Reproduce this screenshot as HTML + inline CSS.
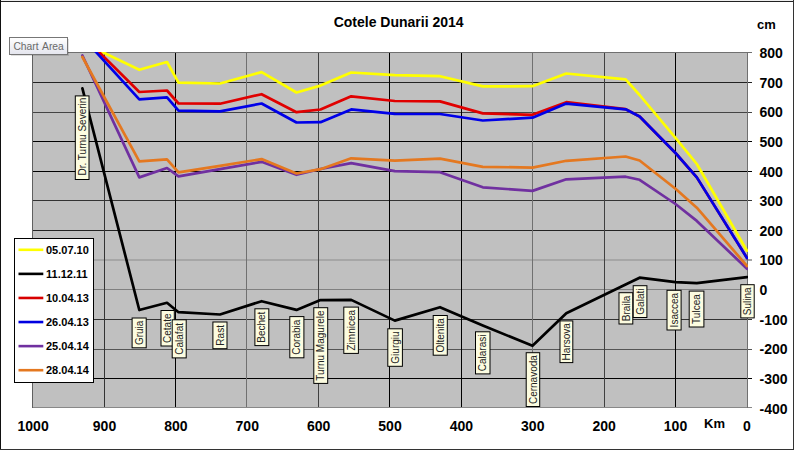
<!DOCTYPE html><html><head><meta charset="utf-8"><style>html,body{margin:0;padding:0;background:#fff;}svg{display:block;font-family:"Liberation Sans",sans-serif;}</style></head><body>
<svg width="794" height="450" viewBox="0 0 794 450">
<defs><clipPath id="pc"><rect x="32" y="52" width="716" height="356"/></clipPath>
<linearGradient id="tg" x1="0" y1="0" x2="0" y2="1"><stop offset="0" stop-color="#ffffff"/><stop offset="1" stop-color="#e4e5ee"/></linearGradient></defs>
<rect width="794" height="450" fill="#fff"/>
<rect x="32" y="52" width="716" height="356" fill="#C0C0C0"/>
<rect x="32" y="82" width="720" height="1" fill="#222"/>
<rect x="32" y="112" width="720" height="1" fill="#444"/>
<rect x="32" y="141" width="720" height="1" fill="#000"/>
<rect x="32" y="171" width="720" height="1" fill="#000"/>
<rect x="32" y="200" width="720" height="1" fill="#333"/>
<rect x="32" y="230" width="720" height="1" fill="#222"/>
<rect x="32" y="259" width="720" height="2" fill="#a6a6a6"/>
<rect x="32" y="289" width="720" height="1" fill="#808080"/>
<rect x="32" y="319" width="720" height="1" fill="#333"/>
<rect x="32" y="349" width="720" height="1" fill="#555"/>
<rect x="32" y="378" width="720" height="1" fill="#000"/>
<rect x="104" y="52" width="1" height="356" fill="#333"/>
<rect x="175" y="52" width="1" height="356" fill="#000"/>
<rect x="246" y="52" width="1" height="356" fill="#707070"/>
<rect x="318" y="52" width="1" height="356" fill="#404040"/>
<rect x="389" y="52" width="1" height="356" fill="#000"/>
<rect x="461" y="52" width="1" height="356" fill="#000"/>
<rect x="532" y="52" width="1" height="356" fill="#707070"/>
<rect x="604" y="52" width="1" height="356" fill="#404040"/>
<rect x="675" y="52" width="1" height="356" fill="#000"/>
<rect x="32" y="52" width="720" height="1" fill="#707070"/>
<rect x="32" y="407" width="720" height="1" fill="#888"/>
<rect x="32" y="52" width="1" height="356" fill="#606060"/>
<rect x="747" y="52" width="1" height="356" fill="#707070"/>
<g clip-path="url(#pc)" fill="none" stroke-width="2.7" stroke-linejoin="round" stroke-linecap="round">
<polyline points="82.4,42.5 139.3,69.8 167,62 178.5,82.7 220,83.5 261.6,72.1 296.5,92.5 320.5,85.6 351.2,72.5 394.8,75.2 440,76.2 482.8,86.4 532.5,86.2 566.3,73.5 625.6,79.3 639.6,95 675.5,137.8 696.8,164 747,250.7" stroke="#FFFF00"/>
<polyline points="82.4,88.3 139.3,310 167,302.8 178.5,312.2 220,314.5 261.6,301.2 296.5,309.9 320.5,300.1 351.2,299.9 394.8,320.6 440,307.2 482.8,325.5 532.5,345.8 566.3,313.2 625.6,284.5 639.6,277.7 675.5,282.2 696.8,283.2 747,277.1" stroke="#000000"/>
<polyline points="82.4,35.5 139.3,92 167,90.5 178.5,103.5 220,103.7 261.6,94.2 296.5,112.2 320.5,109.5 351.2,96.3 394.8,101 440,101.4 482.8,113.4 532.5,114.8 566.3,102.2 625.6,109.1 639.6,116.5 675.5,153 696.8,177.4 747,258" stroke="#E00000"/>
<polyline points="82.4,37.1 139.3,99.3 167,97.3 178.5,110.7 220,111.3 261.6,103.5 296.5,122.5 320.5,122.2 351.2,109.4 394.8,113.9 440,114 482.8,120.5 532.5,117.7 566.3,103.6 625.6,109.3 639.6,116.5 675.5,153 696.8,177.4 747,258" stroke="#0000E8"/>
<polyline points="82.4,55.5 139.3,177.4 167,168 178.5,176.4 220,169.1 261.6,161.8 296.5,174.8 320.5,169 351.2,163.2 394.8,171.2 440,172.2 482.8,187.3 532.5,190.9 566.3,179.3 625.6,176.7 639.6,179.8 675.5,204 696.8,220.9 747,268.7" stroke="#7030A0"/>
<polyline points="82.4,57 139.3,161.3 167,159.3 178.5,172.4 220,165.8 261.6,159.1 296.5,173.5 320.5,169.2 351.2,158.3 394.8,160.7 440,158.7 482.8,166.8 532.5,167.6 566.3,160.8 625.6,156.5 639.6,160.5 675.5,188.8 696.8,207.7 747,266" stroke="#E47820"/>
</g>
<rect x="75.3" y="95.9" width="13.7" height="83.6" fill="#FCFCE0" stroke="#000" stroke-width="1"/>
<text x="0" y="0" transform="translate(82.15,136.6) rotate(-90)" font-size="10" text-anchor="middle" dy="3.6" fill="#222">Dr. Turnu Severin</text>
<rect x="132.1" y="318" width="14.1" height="29.8" fill="#FCFCE0" stroke="#000" stroke-width="1"/>
<text x="0" y="0" transform="translate(139.15,332.9) rotate(-90)" font-size="10" text-anchor="middle" dy="3.6" fill="#222">Gruia</text>
<rect x="161" y="310.5" width="13.3" height="35.5" fill="#FCFCE0" stroke="#000" stroke-width="1"/>
<text x="0" y="0" transform="translate(167.65,328.25) rotate(-90)" font-size="10" text-anchor="middle" dy="3.6" fill="#222">Cetate</text>
<rect x="172.2" y="319.8" width="14" height="38.1" fill="#FCFCE0" stroke="#000" stroke-width="1"/>
<text x="0" y="0" transform="translate(179.2,338.85) rotate(-90)" font-size="10" text-anchor="middle" dy="3.6" fill="#222">Calafat</text>
<rect x="212.9" y="322" width="14.1" height="26.7" fill="#FCFCE0" stroke="#000" stroke-width="1"/>
<text x="0" y="0" transform="translate(219.95,335.35) rotate(-90)" font-size="10" text-anchor="middle" dy="3.6" fill="#222">Rast</text>
<rect x="254.9" y="308.8" width="13.9" height="36.8" fill="#FCFCE0" stroke="#000" stroke-width="1"/>
<text x="0" y="0" transform="translate(261.85,327.2) rotate(-90)" font-size="10" text-anchor="middle" dy="3.6" fill="#222">Bechet</text>
<rect x="289.8" y="316.6" width="14.1" height="41.2" fill="#FCFCE0" stroke="#000" stroke-width="1"/>
<text x="0" y="0" transform="translate(296.85,337.2) rotate(-90)" font-size="10" text-anchor="middle" dy="3.6" fill="#222">Corabia</text>
<rect x="313.8" y="307.7" width="13.9" height="75.7" fill="#FCFCE0" stroke="#000" stroke-width="1"/>
<text x="0" y="0" transform="translate(320.75,345.55) rotate(-90)" font-size="10" text-anchor="middle" dy="3.6" fill="#222">Turnu Magurele</text>
<rect x="343.8" y="307.1" width="14.6" height="46.3" fill="#FCFCE0" stroke="#000" stroke-width="1"/>
<text x="0" y="0" transform="translate(351.1,330.25) rotate(-90)" font-size="10" text-anchor="middle" dy="3.6" fill="#222">Zimnicea</text>
<rect x="387.8" y="328.8" width="14.6" height="37.5" fill="#FCFCE0" stroke="#000" stroke-width="1"/>
<text x="0" y="0" transform="translate(395.1,347.55) rotate(-90)" font-size="10" text-anchor="middle" dy="3.6" fill="#222">Giurgiu</text>
<rect x="433.2" y="315.5" width="14.1" height="39.7" fill="#FCFCE0" stroke="#000" stroke-width="1"/>
<text x="0" y="0" transform="translate(440.25,335.35) rotate(-90)" font-size="10" text-anchor="middle" dy="3.6" fill="#222">Oltenita</text>
<rect x="475.5" y="331.8" width="14.5" height="42.1" fill="#FCFCE0" stroke="#000" stroke-width="1"/>
<text x="0" y="0" transform="translate(482.75,352.85) rotate(-90)" font-size="10" text-anchor="middle" dy="3.6" fill="#222">Calarasi</text>
<rect x="526.2" y="352.7" width="13.5" height="53.8" fill="#FCFCE0" stroke="#000" stroke-width="1"/>
<text x="0" y="0" transform="translate(532.95,379.6) rotate(-90)" font-size="10" text-anchor="middle" dy="3.6" fill="#222">Cernavoda</text>
<rect x="560" y="320.9" width="12.8" height="41.7" fill="#FCFCE0" stroke="#000" stroke-width="1"/>
<text x="0" y="0" transform="translate(566.4,341.75) rotate(-90)" font-size="10" text-anchor="middle" dy="3.6" fill="#222">Harsova</text>
<rect x="619" y="292.7" width="13.8" height="31.3" fill="#FCFCE0" stroke="#000" stroke-width="1"/>
<text x="0" y="0" transform="translate(625.9,308.35) rotate(-90)" font-size="10" text-anchor="middle" dy="3.6" fill="#222">Braila</text>
<rect x="633.2" y="285.7" width="13.7" height="31.8" fill="#FCFCE0" stroke="#000" stroke-width="1"/>
<text x="0" y="0" transform="translate(640.05,301.6) rotate(-90)" font-size="10" text-anchor="middle" dy="3.6" fill="#222">Galati</text>
<rect x="667" y="290.3" width="14.1" height="39.7" fill="#FCFCE0" stroke="#000" stroke-width="1"/>
<text x="0" y="0" transform="translate(674.05,310.15) rotate(-90)" font-size="10" text-anchor="middle" dy="3.6" fill="#222">Isaccea</text>
<rect x="689.2" y="291.1" width="14.7" height="35.9" fill="#FCFCE0" stroke="#000" stroke-width="1"/>
<text x="0" y="0" transform="translate(696.55,309.05) rotate(-90)" font-size="10" text-anchor="middle" dy="3.6" fill="#222">Tulcea</text>
<rect x="740.8" y="284.7" width="13.4" height="33.2" fill="#FCFCE0" stroke="#000" stroke-width="1"/>
<text x="0" y="0" transform="translate(747.5,301.3) rotate(-90)" font-size="10" text-anchor="middle" dy="3.6" fill="#222">Sulina</text>
<rect x="14.5" y="238.5" width="79" height="144" fill="#fff" stroke="#000" stroke-width="1"/>
<line x1="18.5" y1="249.8" x2="43.3" y2="249.8" stroke="#FFFF00" stroke-width="2.6"/>
<text x="46" y="253.8" font-size="11" font-weight="bold" fill="#000">05.07.10</text>
<line x1="18.5" y1="273.88" x2="43.3" y2="273.88" stroke="#000000" stroke-width="2.6"/>
<text x="46" y="277.88" font-size="11" font-weight="bold" fill="#000">11.12.11</text>
<line x1="18.5" y1="297.96" x2="43.3" y2="297.96" stroke="#D80000" stroke-width="2.6"/>
<text x="46" y="301.96" font-size="11" font-weight="bold" fill="#000">10.04.13</text>
<line x1="18.5" y1="322.04" x2="43.3" y2="322.04" stroke="#0000E0" stroke-width="2.6"/>
<text x="46" y="326.04" font-size="11" font-weight="bold" fill="#000">26.04.13</text>
<line x1="18.5" y1="346.12" x2="43.3" y2="346.12" stroke="#7030A0" stroke-width="2.6"/>
<text x="46" y="350.12" font-size="11" font-weight="bold" fill="#000">25.04.14</text>
<line x1="18.5" y1="370.2" x2="43.3" y2="370.2" stroke="#E47820" stroke-width="2.6"/>
<text x="46" y="374.2" font-size="11" font-weight="bold" fill="#000">28.04.14</text>
<text x="398.6" y="26.8" font-size="14" font-weight="bold" text-anchor="middle" fill="#000">Cotele Dunarii 2014</text>
<text x="757" y="28.7" font-size="13" font-weight="bold" fill="#000">cm</text>
<text x="759.5" y="58.1" font-size="14" font-weight="bold" fill="#000">800</text>
<text x="759.5" y="87.72" font-size="14" font-weight="bold" fill="#000">700</text>
<text x="759.5" y="117.35" font-size="14" font-weight="bold" fill="#000">600</text>
<text x="759.5" y="146.98" font-size="14" font-weight="bold" fill="#000">500</text>
<text x="759.5" y="176.6" font-size="14" font-weight="bold" fill="#000">400</text>
<text x="759.5" y="206.23" font-size="14" font-weight="bold" fill="#000">300</text>
<text x="759.5" y="235.85" font-size="14" font-weight="bold" fill="#000">200</text>
<text x="759.5" y="265.48" font-size="14" font-weight="bold" fill="#000">100</text>
<text x="759.5" y="295.1" font-size="14" font-weight="bold" fill="#000">0</text>
<text x="759.5" y="324.73" font-size="14" font-weight="bold" fill="#000">-100</text>
<text x="759.5" y="354.35" font-size="14" font-weight="bold" fill="#000">-200</text>
<text x="759.5" y="383.98" font-size="14" font-weight="bold" fill="#000">-300</text>
<text x="759.5" y="413.6" font-size="14" font-weight="bold" fill="#000">-400</text>
<text x="33.12" y="430.7" font-size="14" font-weight="bold" text-anchor="middle" fill="#000">1000</text>
<text x="104.5" y="430.7" font-size="14" font-weight="bold" text-anchor="middle" fill="#000">900</text>
<text x="175.88" y="430.7" font-size="14" font-weight="bold" text-anchor="middle" fill="#000">800</text>
<text x="247.25" y="430.7" font-size="14" font-weight="bold" text-anchor="middle" fill="#000">700</text>
<text x="318.62" y="430.7" font-size="14" font-weight="bold" text-anchor="middle" fill="#000">600</text>
<text x="390" y="430.7" font-size="14" font-weight="bold" text-anchor="middle" fill="#000">500</text>
<text x="461.38" y="430.7" font-size="14" font-weight="bold" text-anchor="middle" fill="#000">400</text>
<text x="532.75" y="430.7" font-size="14" font-weight="bold" text-anchor="middle" fill="#000">300</text>
<text x="604.12" y="430.7" font-size="14" font-weight="bold" text-anchor="middle" fill="#000">200</text>
<text x="675.5" y="430.7" font-size="14" font-weight="bold" text-anchor="middle" fill="#000">100</text>
<text x="746.88" y="430.7" font-size="14" font-weight="bold" text-anchor="middle" fill="#000">0</text>
<text x="704" y="427.6" font-size="13" font-weight="bold" fill="#000">Km</text>
<rect x="11" y="39" width="58" height="17" fill="#000" opacity="0.12"/>
<rect x="9.5" y="37.5" width="58" height="17" fill="url(#tg)" stroke="#767676" stroke-width="1"/>
<text x="13.4" y="49.6" font-size="10.3" word-spacing="1.2" fill="#6a6a6a">Chart Area</text>
<rect x="0" y="0" width="794" height="1" fill="#eee"/>
<rect x="0" y="1" width="794" height="1" fill="#222"/>
<rect x="0" y="0" width="1" height="450" fill="#111"/>
<rect x="793" y="0" width="1" height="450" fill="#333"/>
<rect x="0" y="449" width="794" height="1" fill="#333"/>
</svg></body></html>
